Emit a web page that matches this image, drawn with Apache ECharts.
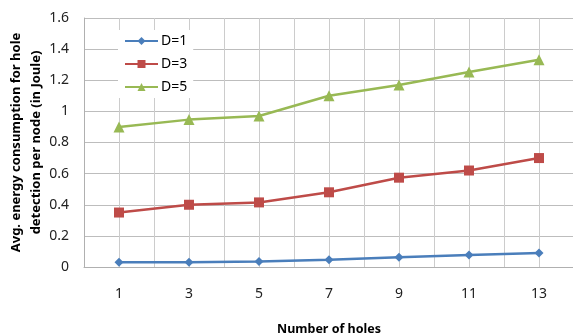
<!DOCTYPE html>
<html>
<head>
<meta charset="utf-8">
<script src="https://cdn.jsdelivr.net/npm/echarts@6/dist/echarts.min.js"></script>
<style>html,body{margin:0;padding:0;background:#fff}#c{width:573px;height:335px}</style>
</head>
<body>
<div id="c"></div>
<script>
var holes = [1, 3, 5, 7, 9, 11, 13];
var d1 = [0.03, 0.03, 0.036, 0.047, 0.062, 0.077, 0.09];
var d3 = [0.35, 0.40, 0.415, 0.48, 0.574, 0.62, 0.70];
var d5 = [0.90, 0.947, 0.97, 1.10, 1.17, 1.253, 1.332];
var seriesNames = ['D=1', 'D=3', 'D=5'];
var yTitle = 'Avg. energy consumption for hole\ndetection per node (in Joule)';
var xTitle = 'Number of holes';

function pairs(vals) { return holes.map(function (h, i) { return [h, vals[i]]; }); }

var font = 'Noto Sans';
var chart = echarts.init(document.getElementById('c'));
chart.setOption({
  animation: false,
  grid: { left: 84, top: 18, width: 490, bottom: 68, containLabel: false, outerBoundsMode: 'none' },
  legend: {
    orient: 'vertical', left: 118, top: 30, backgroundColor: '#fff',
    padding: [4, 6, 4, 6],
    itemWidth: 33, itemHeight: 10, itemGap: 9,
    textStyle: { fontFamily: font, fontSize: 14, color: '#000', padding: [0, 0, 0, -2] },
    data: seriesNames
  },
  xAxis: {
    type: 'value', min: 0, max: 14, interval: 1,
    name: xTitle, nameLocation: 'middle', nameGap: 56,
    nameTextStyle: { fontFamily: font, fontSize: 12.5, fontWeight: 'bold', color: '#000' },
    axisLine: { show: true, onZero: false, lineStyle: { color: '#b0b0b0', width: 1 } },
    axisTick: { show: false },
    axisLabel: {
      margin: 20, fontFamily: font, fontSize: 14, color: '#222',
      formatter: function (v) { return holes.indexOf(v) >= 0 ? String(v) : ''; }
    },
    splitLine: { show: true, lineStyle: { color: '#cccccc', width: 1 } }
  },
  yAxis: {
    type: 'value', min: 0, max: 1.6, interval: 0.2,
    name: yTitle, nameLocation: 'middle', nameGap: 38, nameMoveOverlap: false,
    nameTextStyle: { fontFamily: font, fontSize: 13, fontWeight: 'bold', color: '#000', lineHeight: 20 },
    axisLine: { show: true, lineStyle: { color: '#b0b0b0', width: 1 } },
    axisTick: { show: false },
    axisLabel: {
      margin: 15, fontFamily: font, fontSize: 14, color: '#222',
      formatter: function (v) { return String(Math.round(v * 10) / 10); }
    },
    splitLine: { show: true, lineStyle: { color: '#bdbdbd', width: 1 } }
  },
  series: [
    { name: seriesNames[0], type: 'line', data: pairs(d1), symbol: 'diamond', symbolSize: 9,
      lineStyle: { color: '#4a7ebb', width: 2.5 }, itemStyle: { color: '#4a7ebb' } },
    { name: seriesNames[1], type: 'line', data: pairs(d3), symbol: 'rect', symbolSize: 10,
      lineStyle: { color: '#be4b48', width: 2.5 }, itemStyle: { color: '#be4b48' } },
    { name: seriesNames[2], type: 'line', data: pairs(d5), symbol: 'triangle', symbolSize: 11,
      lineStyle: { color: '#98b954', width: 2.5 }, itemStyle: { color: '#98b954' } }
  ]
});
</script>
</body>
</html>
